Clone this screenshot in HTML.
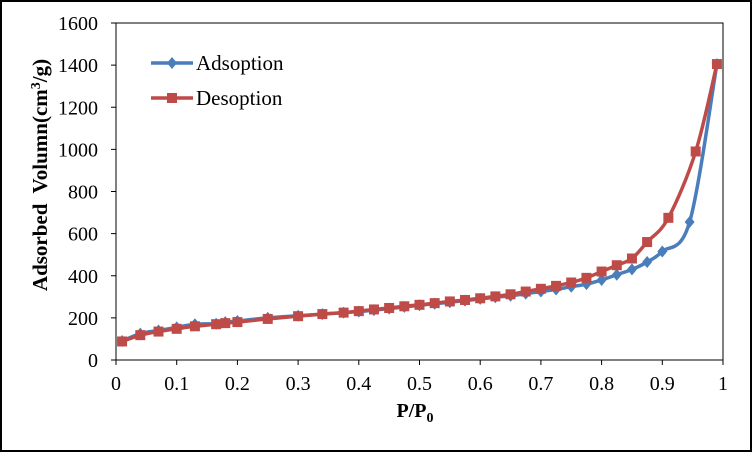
<!DOCTYPE html>
<html><head><meta charset="utf-8"><style>
body{margin:0;background:#fff}
svg{display:block;font-family:"Liberation Serif",serif}
</style></head><body>
<svg width="752" height="452" id="c">
<rect x="1" y="1" width="750" height="450" fill="#fff" stroke="#000" stroke-width="2"/>
<g id="plot"></g>
</svg>
<script>
const adsX=[0.01,0.04,0.07,0.1,0.13,0.165,0.18,0.2,0.25,0.3,0.34,0.375,0.4,0.425,0.45,0.475,0.5,0.525,0.55,0.575,0.6,0.625,0.65,0.675,0.7,0.725,0.75,0.775,0.8,0.825,0.85,0.875,0.9,0.945,0.99];
const adsY=[90,125,140,155,170,172,180,185,200,210,218,225,230,237,244,252,260,267,274,282,290,298,305,315,325,335,348,360,380,405,430,465,515,655,1405];
const desX=[0.01,0.04,0.07,0.1,0.13,0.165,0.18,0.2,0.25,0.3,0.34,0.375,0.4,0.425,0.45,0.475,0.5,0.525,0.55,0.575,0.6,0.625,0.65,0.675,0.7,0.725,0.75,0.775,0.8,0.825,0.85,0.875,0.91,0.955,0.99];
const desY=[88,118,135,148,160,170,175,180,195,208,218,225,232,240,247,255,262,270,278,285,293,302,312,325,338,352,368,390,420,450,482,560,675,990,1405];
const xTicks=[0,0.1,0.2,0.3,0.4,0.5,0.6,0.7,0.8,0.9,1];
const xTickLabels=["0","0.1","0.2","0.3","0.4","0.5","0.6","0.7","0.8","0.9","1"];
const yTicks=[0,200,400,600,800,1000,1200,1400,1600];

const L=116,R=723,T=23,B=360;
const sx=v=>L+(v-0)*(R-L)/1;
const sy=v=>B-v*(B-T)/1600;
const NS="http://www.w3.org/2000/svg";
const g=document.getElementById('plot');
function mk(t,a,p){const e=document.createElementNS(NS,t);for(const k in a)e.setAttribute(k,a[k]);(p||g).appendChild(e);return e;}

let ax=mk('rect',{x:L,y:T,width:R-L,height:B-T,fill:'none',stroke:'#000','stroke-width':1});


yTicks.forEach(v=>{
  let tk=mk('line',{x1:L-5,x2:L,y1:sy(v),y2:sy(v),stroke:'#000'});
  
  
  let t=mk('text',{x:L-18,y:sy(v)+7,'text-anchor':'end','font-size':20});
  t.textContent=v;
  
  
});
xTicks.forEach((v,i)=>{
  let tk=mk('line',{x1:sx(v),x2:sx(v),y1:B,y2:B+5,stroke:'#000'});
  
  
  let t=mk('text',{x:sx(v),y:B+30,'text-anchor':'middle','font-size':20});
  t.textContent=xTickLabels[i];
  
  
});
function path(xs,ys){
  const p=xs.map((x,i)=>[sx(x),sy(ys[i])]);
  let d='M'+p[0][0]+','+p[0][1];
  for(let i=0;i<p.length-1;i++){
    const p0=p[Math.max(i-1,0)],p1=p[i],p2=p[i+1],p3=p[Math.min(i+2,p.length-1)];
    const t=6;
    d+=` C${p1[0]+(p2[0]-p0[0])/t},${p1[1]+(p2[1]-p0[1])/t} ${p2[0]-(p3[0]-p1[0])/t},${p2[1]-(p3[1]-p1[1])/t} ${p2[0]},${p2[1]}`;
  }
  return d;
}
let la=mk('path',{d:path(adsX,adsY),fill:'none',stroke:'#4a7ebb','stroke-width':3.5});


adsX.forEach((x,i)=>{
  const cx=sx(x),cy=sy(adsY[i]);
  let m=mk('path',{d:`M${cx},${cy-6}L${cx+5},${cy}L${cx},${cy+6}L${cx-5},${cy}Z`,fill:'#4a7ebb'});
  
  
});
let ld=mk('path',{d:path(desX,desY),fill:'none',stroke:'#be4b48','stroke-width':3.5});


desX.forEach((x,i)=>{
  const cx=sx(x),cy=sy(desY[i]);
  let m=mk('rect',{x:cx-5,y:cy-5,width:10,height:10,fill:'#be4b48'});
  
  
});
// legend
let l1=mk('line',{x1:151,x2:193,y1:63,y2:63,stroke:'#4a7ebb','stroke-width':3.5});


mk('path',{d:'M172,57L177,63L172,69L167,63Z',fill:'#4a7ebb'});
let t1=mk('text',{x:196,y:70,'font-size':21});t1.textContent='Adsoption';


let l2=mk('line',{x1:151,x2:193,y1:98,y2:98,stroke:'#be4b48','stroke-width':3.5});


mk('rect',{x:167,y:93,width:10,height:10,fill:'#be4b48'});
let t2=mk('text',{x:196,y:105,'font-size':21});t2.textContent='Desoption';


// axis titles
let xt=mk('text',{x:415,y:417,'text-anchor':'middle','font-size':20,'font-weight':'bold'});
xt.innerHTML='P/P<tspan dy="5" font-size="14">0</tspan>';


let yt=mk('text',{transform:'translate(47,175) rotate(-90)','text-anchor':'middle','font-size':21,'font-weight':'bold',style:'white-space:pre'});
yt.innerHTML='Adsorbed  Volumn(cm<tspan dy="-7" font-size="14">3</tspan><tspan dy="7">/g)</tspan>';


</script>
</body></html>
